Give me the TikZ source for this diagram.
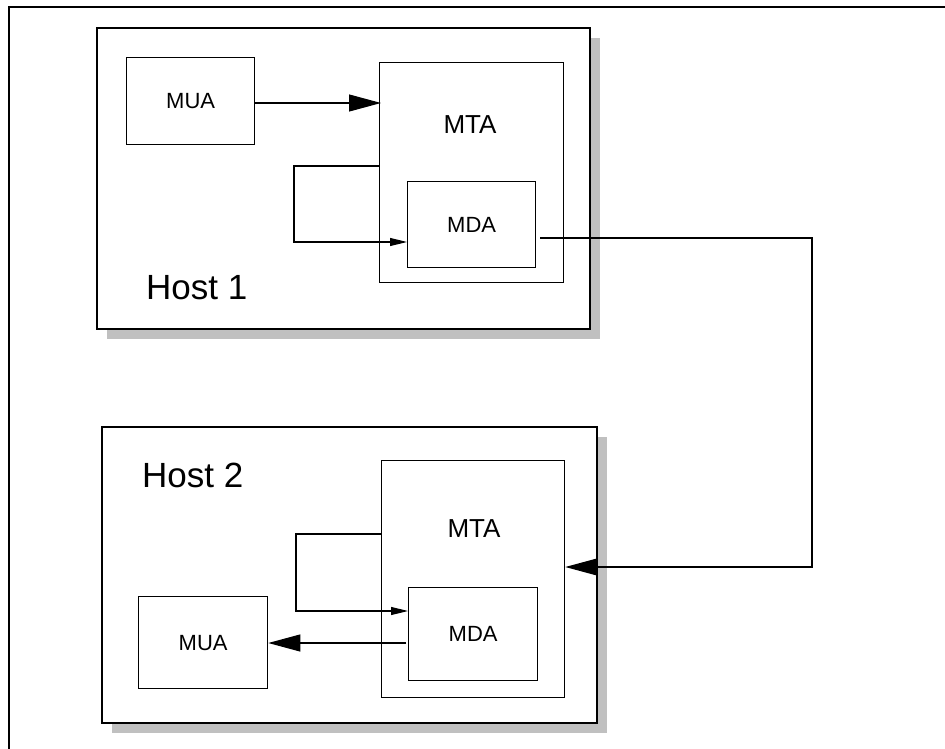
\documentclass[tikz,border=0pt]{standalone}
\usepackage{fontspec}
\setmainfont{Liberation Sans}
\usetikzlibrary{arrows.meta}
\definecolor{shadowgray}{HTML}{C0C0C0}
\tikzset{
  hostbox/.style={draw=black, fill=white, line width=1.6pt},
  hostshadow/.style={fill=shadowgray, draw=none},
  inbox/.style={draw=black, line width=1.3pt, anchor=north west, inner sep=0pt},
  conn/.style={line width=1.1pt},
  bighead/.style={-{Triangle[length=32pt,width=17pt]}},
  smallhead/.style={-{Triangle[length=17pt,width=8pt]}},
  boxtext/.style={font=\fontsize{22}{26}\selectfont},
  mtatext/.style={font=\fontsize{26}{30}\selectfont},
  hosttext/.style={font=\fontsize{35}{40}\selectfont, anchor=base west, inner sep=0pt},
}
\begin{document}
\begin{tikzpicture}[x=1pt, y=-1pt]
\useasboundingbox (0,0) rectangle (945,749);
% outer frame (only top and left visible)
\draw[line width=1.2pt] (9,749) -- (9,7) -- (945,7);

% Host 1
\fill[hostshadow] (107,38) rectangle (600,339);
\draw[hostbox] (97,28) rectangle (590,329);
\node[hosttext] (host1) at (146,299) {Host 1};
\node[inbox, boxtext, minimum width=128pt, minimum height=87pt] (mua1) at (126,57) {MUA};
\node[inbox, minimum width=184pt, minimum height=220pt] (mta1) at (379,62) {};
\node[mtatext] (mta1t) at (470,125) {MTA};
\node[inbox, boxtext, minimum width=128pt, minimum height=86pt] (mda1) at (407,181) {MDA};

% Host 2
\fill[hostshadow] (112,437) rectangle (607,733);
\draw[hostbox] (102,427) rectangle (597,723);
\node[hosttext] (host2) at (142,487) {Host 2};
\node[inbox, boxtext, minimum width=129pt, minimum height=92pt] (mua2) at (138,596) {MUA};
\node[inbox, minimum width=183pt, minimum height=237pt] (mta2) at (381,460) {};
\node[mtatext] (mta2t) at (474,529) {MTA};
\node[inbox, boxtext, minimum width=129pt, minimum height=93pt] (mda2) at (408,587) {MDA};

% connectors
\draw[conn, bighead] (mua1.east |- 0,103) -- ([xshift=2pt]mta1.west |- 0,103);
\draw[conn, smallhead] (mta1.west |- 0,166) -- ++(-85,0) |- (mda1.west |- 0,242);
\coordinate (turn) at (812,238);
\draw[conn, bighead] ([xshift=4pt]mda1.east |- 0,238) -- (turn) |- (mta2.east |- 0,567);
\draw[conn, smallhead] (mta2.west |- 0,534) -- ++(-85,0) |- (mda2.west |- 0,611);
\draw[conn, bighead] ([xshift=-2pt]mda2.west |- 0,643) -- (mua2.east |- 0,643);
\end{tikzpicture}
\end{document}
